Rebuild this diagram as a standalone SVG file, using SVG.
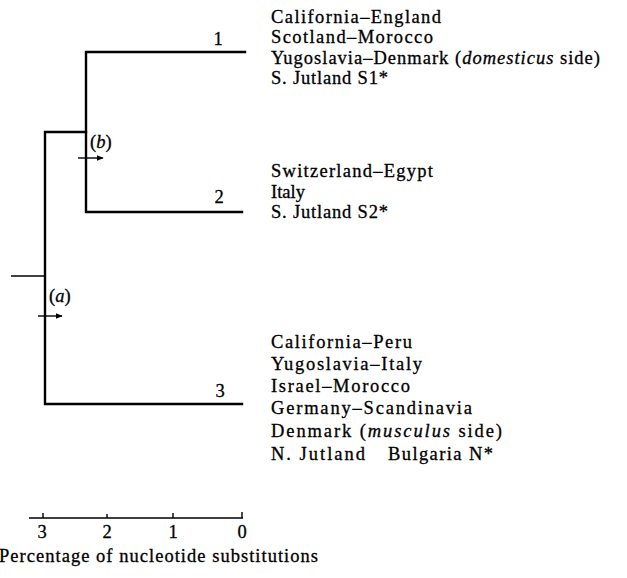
<svg xmlns="http://www.w3.org/2000/svg" width="627" height="578" viewBox="0 0 627 578">
<style>
.br{stroke:#000;stroke-width:2.4;fill:none;stroke-linecap:square}
.ax{stroke:#000;stroke-width:1.4;fill:none}
.t{font-family:"Liberation Serif","Times New Roman",serif;font-size:18.5px;fill:#000;stroke:#000;stroke-width:0.3}
.n{font-family:"Liberation Serif","Times New Roman",serif;font-size:18.5px;fill:#000;stroke:#000;stroke-width:0.3;text-anchor:middle}
.i{font-style:italic}
</style>
<defs>
<marker id="ah" viewBox="0 0 10 10" refX="9" refY="5" markerWidth="5" markerHeight="5" orient="auto"><path d="M0,1 L10,5 L0,9 Z" fill="#000"/></marker>
</defs>
<g id="connectors">
<path class="br" d="M245,52 H86 V212 H242"/>
<path class="br" d="M86,132 H45 V404 H242"/>
<path class="ax" d="M11,276 H45"/>
<path class="ax" d="M78,158 H103" marker-end="url(#ah)"/>
<path class="ax" d="M38,316 H62" marker-end="url(#ah)"/>
</g>
<g id="node-b"><text class="t" x="90" y="148">(<tspan class="i">b</tspan>)</text></g>
<g id="node-a"><text class="t" x="49" y="302">(<tspan class="i">a</tspan>)</text></g>
<g id="clade-1">
<text class="n" x="218" y="45">1</text>
<text class="t" x="271" y="23" textLength="170" lengthAdjust="spacing">California–England</text>
<text class="t" x="271" y="43" textLength="162" lengthAdjust="spacing">Scotland–Morocco</text>
<text class="t" x="271" y="64" textLength="329" lengthAdjust="spacing">Yugoslavia–Denmark (<tspan class="i">domesticus</tspan> side)</text>
<text class="t" x="271" y="84" textLength="117" lengthAdjust="spacing">S. Jutland S1*</text>
</g>
<g id="clade-2">
<text class="n" x="219" y="203">2</text>
<text class="t" x="271" y="177" textLength="162" lengthAdjust="spacing">Switzerland–Egypt</text>
<text class="t" x="271" y="198">Italy</text>
<text class="t" x="271" y="218" textLength="117" lengthAdjust="spacing">S. Jutland S2*</text>
</g>
<g id="clade-3">
<text class="n" x="220" y="397">3</text>
<text class="t" x="271" y="348" textLength="141" lengthAdjust="spacing">California–Peru</text>
<text class="t" x="271" y="370" textLength="151" lengthAdjust="spacing">Yugoslavia–Italy</text>
<text class="t" x="271" y="392" textLength="139" lengthAdjust="spacing">Israel–Morocco</text>
<text class="t" x="271" y="414" textLength="201" lengthAdjust="spacing">Germany–Scandinavia</text>
<text class="t" x="271" y="437" textLength="231" lengthAdjust="spacing">Denmark (<tspan class="i">musculus</tspan> side)</text>
<text class="t" x="271" y="460" textLength="94" lengthAdjust="spacing">N. Jutland</text>
<text class="t" x="388" y="460" textLength="105" lengthAdjust="spacing">Bulgaria N*</text>
</g>
<g id="scale">
<path class="ax" d="M29,518 H243 M43,518 V513 M107,518 V514 M173,518 V513 M242,518 V512"/>
<text class="n" x="42" y="538">3</text>
<text class="n" x="107" y="538">2</text>
<text class="n" x="173" y="538">1</text>
<text class="n" x="242" y="538">0</text>
<text class="t" x="-1" y="562" textLength="319" lengthAdjust="spacing">Percentage of nucleotide substitutions</text>
</g>
</svg>
